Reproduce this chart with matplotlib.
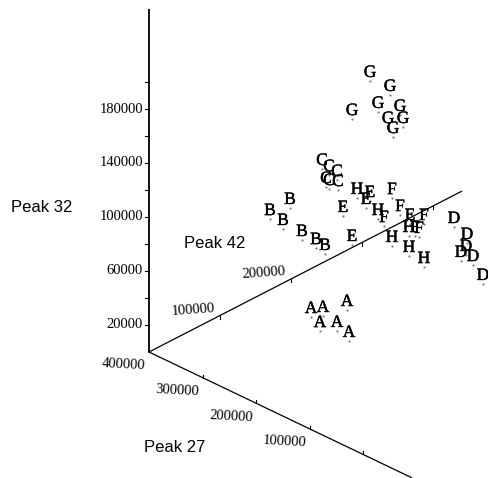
import numpy as np
import matplotlib
matplotlib.use("Agg")
import matplotlib.pyplot as plt
import matplotlib.patheffects as pe

# ---------------- data (Peak 27, Peak 42, Peak 32) ----------------
groups = ["A", "B", "C", "D", "E", "F", "G", "H"]

peak27 = {
    "A": [200000, 200000, 200000, 200000, 200000, 200000],
    "B": [350000, 350000, 350000, 350000, 350000, 350000],
    "C": [350000, 350000, 350000, 350000, 350000, 350000],
    "D": [150000, 150000, 150000, 150000, 150000, 150000],
    "E": [250000, 250000, 250000, 250000, 250000],
    "F": [250000, 250000, 250000, 250000, 250000, 250000],
    "G": [300000, 300000, 300000, 300000, 300000, 300000, 300000, 300000],
    "H": [200000, 200000, 200000, 200000, 200000, 200000],
}
peak42 = {
    "A": [77500, 94400, 128200, 90100, 114100, 131000],
    "B": [160900, 132700, 151100, 177800, 197500, 210200],
    "C": [206000, 215800, 227100, 211600, 215800, 228500],
    "D": [241200, 259500, 258100, 251100, 268000, 282000],
    "E": [198200, 192600, 160200, 172900, 254600],
    "F": [229200, 240500, 218000, 274300, 267300, 261600],
    "G": [235900, 264100, 210600, 247200, 278200, 261300, 282400, 268300],
    "H": [142300, 171800, 215500, 191500, 215500, 236600],
}
peak32 = {
    "A": [48800, 45000, 40300, 35000, 28600, 16600],
    "B": [78600, 78000, 65700, 50300, 39000, 31200],
    "C": [95300, 88100, 81400, 80400, 77800, 73600],
    "D": [80700, 63900, 55400, 52900, 45300, 27500],
    "E": [92600, 89000, 91800, 66900, 60400],
    "F": [86400, 70800, 68700, 55000, 47300, 49600],
    "G": [161900, 143900, 140500, 135900, 125300, 120900, 115200, 111600],
    "H": [119500, 95900, 71500, 70600, 56700, 42800],
}

p32_ticks = [20000, 40000, 60000, 80000, 100000, 120000, 140000, 160000, 180000, 200000]
p32_labels = [20000, 60000, 100000, 140000, 180000]
p42_ticks = [100000, 200000, 300000, 400000]
p42_labels = [100000, 200000]
p27_ticks = [400000, 300000, 200000, 100000, 0]
p27_labels = [400000, 300000, 200000, 100000]

# ---------------- projection (oblique 3D -> page pixels) ----------------
ORIGIN = np.array([149.0, 352.0])
V27 = np.array([53.5, 25.6])     # per 100000 of (400000 - Peak 27)
V42 = np.array([71.0, -36.5])    # per 100000 of Peak 42
V32 = np.array([0.0, -135.0])    # per 100000 of Peak 32


def proj(p27, p42, p32):
    p27 = np.asarray(p27, float)
    p42 = np.asarray(p42, float)
    p32 = np.asarray(p32, float)
    a27 = (400000 - p27) / 1e5
    a42 = p42 / 1e5
    a32 = p32 / 1e5
    x = ORIGIN[0] + a27 * V27[0] + a42 * V42[0] + a32 * V32[0]
    y = ORIGIN[1] + a27 * V27[1] + a42 * V42[1] + a32 * V32[1]
    return x, y


W, H = 489, 478
fig = plt.figure(figsize=(W / 100, H / 100), dpi=100)
ax = fig.add_axes([0, 0, 1, 1])
ax.set_xlim(0, W)
ax.set_ylim(H, 0)
ax.axis("off")

num_font = dict(family="Liberation Serif", fontsize=10.5, color="black")
title_font = dict(family="Liberation Sans", fontsize=12, color="black")

# axes lines
x, y = proj([400000, 400000], [0, 0], [0, 254000])
ax.plot(x, y, color="black", lw=1.3, solid_capstyle="butt")
x, y = proj([400000, 400000], [0, 440000], [0, 0])
ax.plot(x, y, color="black", lw=0.9)
x, y = proj([400000, -90000], [0, 0], [0, 0])
ax.plot(x, y, color="black", lw=0.9)

# Peak 32 ticks
for t in p32_ticks:
    tx, ty = proj(400000, 0, t)
    ax.plot([tx - 4, tx], [ty, ty], color="black", lw=0.8)
    if t in p32_labels:
        ax.text(tx - 6, ty, f"{t}", ha="right", va="center", **num_font)

# Peak 42 ticks
for t in p42_ticks:
    tx, ty = proj(400000, t, 0)
    ax.plot([tx, tx], [ty, ty + 3], color="black", lw=0.8)
    if t in p42_labels:
        ax.text(tx - 27, ty - 6, f"{t}", ha="center", va="center",
                rotation=4, **num_font)

# Peak 27 ticks
for t in p27_ticks:
    tx, ty = proj(t, 0, 0)
    if t != 400000:
        ax.plot([tx, tx], [ty, ty - 3], color="black", lw=0.8)
    if t in p27_labels:
        ax.text(tx - 25, ty + 13, f"{t}", ha="center", va="center",
                rotation=-3, **num_font)

# axis titles
ax.text(42, 207, "Peak 32", ha="center", va="center", **title_font)
ax.text(215, 243, "Peak 42", ha="center", va="center", **title_font)
ax.text(175, 447, "Peak 27", ha="center", va="center", **title_font)

# points as letters
stroke = [pe.withStroke(linewidth=0.3, foreground="black")]
for g in groups:
    px, py = proj(peak27[g], peak42[g], peak32[g])
    for xi, yi in zip(px, py):
        ax.plot(xi, yi + 8, marker=".", ms=1, color="0.4")
        ax.text(xi, yi, g, ha="center", va="center",
                family="Liberation Serif", fontsize=12.5, color="black",
                path_effects=stroke)

fig.savefig("out.png", dpi=100)
